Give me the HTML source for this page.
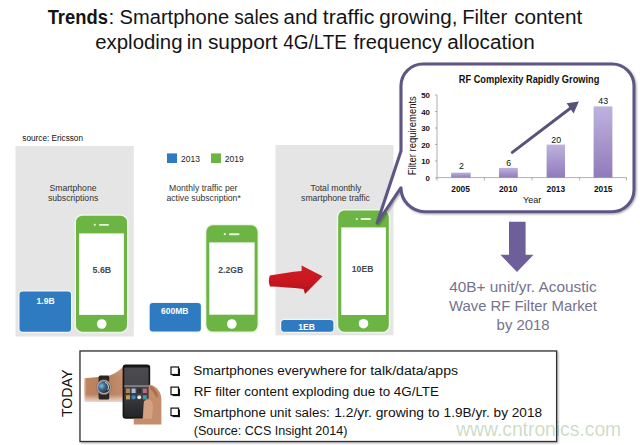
<!DOCTYPE html>
<html><head><meta charset="utf-8">
<style>
html,body{margin:0;padding:0;background:#fff;width:640px;height:445px;overflow:hidden}
svg{display:block}
text{font-family:"Liberation Sans",Arial,sans-serif}
</style></head>
<body>
<svg width="640" height="445" viewBox="0 0 640 445">
<defs>
  <linearGradient id="bar" x1="0" y1="0" x2="0" y2="1">
    <stop offset="0" stop-color="#bfb2de"/>
    <stop offset="1" stop-color="#8f7bbb"/>
  </linearGradient>
  <linearGradient id="red" x1="0" y1="0" x2="0" y2="1">
    <stop offset="0" stop-color="#d01c24"/>
    <stop offset="0.6" stop-color="#c8161f"/>
    <stop offset="1" stop-color="#b0121a"/>
  </linearGradient>
  <filter id="sh" x="-10%" y="-10%" width="120%" height="120%">
    <feGaussianBlur in="SourceAlpha" stdDeviation="1.2"/>
    <feOffset dx="0.8" dy="1.2" result="b"/>
    <feComponentTransfer><feFuncA type="linear" slope="0.35"/></feComponentTransfer>
    <feMerge><feMergeNode/><feMergeNode in="SourceGraphic"/></feMerge>
  </filter>
</defs>

<!-- Title -->
<g font-size="19.4" fill="#141414">
<text lengthAdjust="spacingAndGlyphs" x="47.66" y="23.5" textLength="60.22" font-weight="bold">Trends</text>
<text lengthAdjust="spacingAndGlyphs" x="108.6" y="23.5" textLength="5.8">:</text>
<text lengthAdjust="spacingAndGlyphs" x="119.57" y="23.5" textLength="109.55">Smartphone</text>
<text lengthAdjust="spacingAndGlyphs" x="234.27" y="23.5" textLength="44.59">sales</text>
<text lengthAdjust="spacingAndGlyphs" x="283.62" y="23.5" textLength="33.98">and</text>
<text lengthAdjust="spacingAndGlyphs" x="322.83" y="23.5" textLength="51.55">traffic</text>
<text lengthAdjust="spacingAndGlyphs" x="379.2" y="23.5" textLength="78.21">growing,</text>
<text lengthAdjust="spacingAndGlyphs" x="462.19" y="23.5" textLength="45.06">Filter</text>
<text lengthAdjust="spacingAndGlyphs" x="514.2" y="23.5" textLength="68.03">content</text>
<text lengthAdjust="spacingAndGlyphs" x="95.22" y="49.1" textLength="87.33">exploding</text>
<text lengthAdjust="spacingAndGlyphs" x="186.81" y="49.1" textLength="15.66">in</text>
<text lengthAdjust="spacingAndGlyphs" x="207.95" y="49.1" textLength="69.6">support</text>
<text lengthAdjust="spacingAndGlyphs" x="283.27" y="49.1" textLength="63.71">4G/LTE</text>
<text lengthAdjust="spacingAndGlyphs" x="353.49" y="49.1" textLength="88.55">frequency</text>
<text lengthAdjust="spacingAndGlyphs" x="447.3" y="49.1" textLength="87.51">allocation</text>
</g>

<!-- source -->
<text x="22.3" y="140.5" font-size="8.4" fill="#111" textLength="60.7" lengthAdjust="spacingAndGlyphs">source: Ericsson</text>

<!-- gray panels -->
<rect x="15.5" y="146" width="118.3" height="190.5" fill="#e5e5e5"/>
<rect x="275.5" y="145" width="118" height="190.3" fill="#e5e5e5"/>

<!-- legend -->
<rect x="167" y="153.4" width="10" height="9.6" fill="#2f7bc1"/>
<text x="181" y="161.6" font-size="8.7" fill="#222" textLength="19" lengthAdjust="spacingAndGlyphs">2013</text>
<rect x="211" y="153.4" width="10" height="9.6" fill="#6cb545"/>
<text x="224.7" y="161.6" font-size="8.7" fill="#222" textLength="19" lengthAdjust="spacingAndGlyphs">2019</text>

<!-- panel labels -->
<g font-size="8.65" fill="#333" text-anchor="middle">
<text x="73" y="190.5">Smartphone</text>
<text x="73.1" y="201">subscriptions</text>
<text x="203.3" y="190.5">Monthly traffic per</text>
<text x="203.6" y="200.7">active subscription*</text>
<text x="336" y="190.7">Total monthly</text>
<text x="335.5" y="200.5">smartphone traffic</text>
</g>

<!-- phones -->
<g fill="none" stroke="#eef7e6" stroke-width="2">
  <rect x="75.5" y="215.2" width="52" height="117" rx="7"/>
  <rect x="205.8" y="224.8" width="52.3" height="107.3" rx="7"/>
  <rect x="337.7" y="209.9" width="51.6" height="122.4" rx="7"/>
</g>
<g id="phones">
  <!-- phone 1 -->
  <rect x="76" y="215.7" width="51" height="116" rx="6.5" fill="#6cb545"/>
  <rect x="79.1" y="233.4" width="44.8" height="81.5" fill="#fff"/>
  <circle cx="94.8" cy="224.8" r="1.1" fill="#e8f5da"/>
  <rect x="99" y="223.9" width="10" height="1.9" rx="0.9" fill="#e8f5da"/>
  <circle cx="101.7" cy="324" r="4.8" fill="#fff"/>
  <!-- phone 2 -->
  <rect x="206.3" y="225.3" width="51.3" height="106.3" rx="6.5" fill="#6cb545"/>
  <rect x="209.3" y="242.4" width="45.3" height="72.3" fill="#fff"/>
  <circle cx="224.8" cy="234.2" r="1.1" fill="#e8f5da"/>
  <rect x="229" y="233.3" width="10.5" height="1.9" rx="0.9" fill="#e8f5da"/>
  <circle cx="231.8" cy="324" r="4.8" fill="#fff"/>
  <!-- phone 3 -->
  <rect x="338.2" y="210.4" width="50.6" height="121.4" rx="6.5" fill="#6cb545"/>
  <rect x="341.3" y="227.4" width="44.6" height="87.6" fill="#fff"/>
  <circle cx="356.8" cy="219" r="1.1" fill="#e8f5da"/>
  <rect x="360.6" y="218.1" width="10.4" height="1.9" rx="0.9" fill="#e8f5da"/>
  <circle cx="363.5" cy="323.7" r="4.8" fill="#fff"/>
</g>
<g font-size="8.6" font-weight="bold" fill="#4a4a4a" text-anchor="middle">
<text x="101.9" y="272.6" textLength="18.6" lengthAdjust="spacingAndGlyphs">5.6B</text>
<text x="230.7" y="272.5">2.2GB</text>
<text x="362.6" y="272.2">10EB</text>
</g>

<!-- blue boxes -->
<g fill="none" stroke="#f3f7fa" stroke-width="2.4">
<rect x="19.5" y="291.6" width="51.5" height="40.2" rx="3.5"/>
<rect x="149.7" y="302.9" width="51.2" height="28.7" rx="3.5"/>
<rect x="281.2" y="320" width="52.2" height="11.8" rx="3.5"/>
</g>
<rect x="19.5" y="291.6" width="51.5" height="40.2" rx="3" fill="#2f7bc1"/>
<rect x="149.7" y="302.9" width="51.2" height="28.7" rx="3" fill="#2f7bc1"/>
<rect x="281.2" y="320" width="52.2" height="11.8" rx="3" fill="#2f7bc1"/>
<g font-size="8.5" font-weight="bold" fill="#fff" text-anchor="middle">
<text x="45.6" y="303.8">1.9B</text>
<text x="174.8" y="314.3">600MB</text>
<text x="306.6" y="329.8">1EB</text>
</g>

<!-- red arrow -->
<path d="M269.8,275.6 C280,273.5 291,272 301.6,271 L301.6,265.5 L322.5,276.3 L305,293.9 L303.5,289 C292,287.5 281,286.8 270,286.4 C268.5,283 268.5,279 269.8,275.6 Z" fill="url(#red)"/>

<!-- callout -->
<path d="M423,64 H612 A22,22 0 0 1 634,86 V190 A22,22 0 0 1 612,211.7 H425 A24,24 0 0 1 401,187.7 L377.2,223 L401,151 V86 A22,22 0 0 1 423,64 Z" fill="#fff" stroke="#5e5786" stroke-width="3.1" stroke-linejoin="round" filter="url(#sh)"/>

<!-- chart -->
<text x="458.8" y="82.9" font-size="10.8" font-weight="bold" fill="#111" textLength="140.5" lengthAdjust="spacingAndGlyphs">RF Complexity Rapidly Growing</text>
<g stroke="#9a9a9a" stroke-width="0.8" fill="none">
  <path d="M437,95 V178"/>
  <path d="M435,95 H437 M435,111.5 H437 M435,128 H437 M435,144.5 H437 M435,161 H437 M435,178 H437"/>
  <path d="M437,177.6 H626.6"/>
  <path d="M437,177.6 V180.5 M484.3,177.6 V180.5 M532,177.6 V180.5 M579.7,177.6 V180.5 M626.6,177.6 V180.5"/>
</g>
<g font-size="7.9" font-weight="bold" fill="#111" text-anchor="end">
<text x="430" y="98">50</text>
<text x="430" y="114.5">40</text>
<text x="430" y="131">30</text>
<text x="430" y="147.5">20</text>
<text x="430" y="164">10</text>
<text x="430" y="181">0</text>
</g>
<text transform="translate(416.4,175.2) rotate(-90)" font-size="10.9" fill="#111" textLength="79" lengthAdjust="spacingAndGlyphs">Filter requirements</text>
<rect x="451.2" y="172.6" width="19.5" height="5" fill="url(#bar)"/>
<rect x="499" y="167.9" width="18.8" height="9.7" fill="url(#bar)"/>
<rect x="546.6" y="144.6" width="18.4" height="33" fill="url(#bar)"/>
<rect x="593.6" y="106.4" width="18.8" height="71.2" fill="url(#bar)"/>
<g font-size="8.8" fill="#111" text-anchor="middle">
<text x="461.4" y="169">2</text>
<text x="508.7" y="165.8">6</text>
<text x="556.2" y="142.8">20</text>
<text x="603.2" y="104">43</text>
</g>
<g font-size="8.4" font-weight="bold" fill="#111" text-anchor="middle">
<text x="460.6" y="192">2005</text>
<text x="508.2" y="192">2010</text>
<text x="555.8" y="192">2013</text>
<text x="603.2" y="192">2015</text>
</g>
<text x="523" y="203.3" font-size="9.6" fill="#111" textLength="18.2" lengthAdjust="spacingAndGlyphs">Year</text>
<!-- trend arrow -->
<path d="M512.3,152.4 L572,107" stroke="#5a5279" stroke-width="3" stroke-linecap="round"/>
<path d="M578.9,101.5 L566.6,103.3 L573.6,113.6 Z" fill="#5a5279"/>

<!-- big down arrow -->
<path d="M509,221.8 H525.6 V254.8 H533.5 L517,272 L500.4,254.8 H509 Z" fill="#6e5e9a"/>

<!-- market text -->
<g font-size="15" fill="#75728d">
<text lengthAdjust="spacingAndGlyphs" x="449.2" y="292" textLength="147.4">40B+ unit/yr. Acoustic</text>
<text lengthAdjust="spacingAndGlyphs" x="449" y="310.8" textLength="148">Wave RF Filter Market</text>
<text lengthAdjust="spacingAndGlyphs" x="496.6" y="330" textLength="53">by 2018</text>
</g>

<!-- bottom box -->
<rect x="80" y="351" width="476.6" height="90.5" fill="#fff" stroke="#333" stroke-width="1.3" filter="url(#sh)"/>
<text transform="translate(72.2,417.1) rotate(-90)" font-size="14" fill="#111" textLength="47.6" lengthAdjust="spacingAndGlyphs">TODAY</text>

<!-- arm / watch / phone image -->
<g id="img">
  <defs>
    <linearGradient id="arm" x1="0" y1="0" x2="1" y2="0">
      <stop offset="0" stop-color="#c89068" stop-opacity="0.45"/>
      <stop offset="0.06" stop-color="#bd8560"/>
      <stop offset="0.5" stop-color="#b67e5c"/>
      <stop offset="1" stop-color="#c48e6e"/>
    </linearGradient>
    <linearGradient id="armv" x1="0" y1="0" x2="0" y2="1">
      <stop offset="0" stop-color="#fff" stop-opacity="0.12"/>
      <stop offset="0.3" stop-color="#fff" stop-opacity="0"/>
      <stop offset="0.78" stop-color="#fff" stop-opacity="0"/>
      <stop offset="1" stop-color="#fff" stop-opacity="0.7"/>
    </linearGradient>
    <linearGradient id="scr" x1="0" y1="0" x2="0" y2="1">
      <stop offset="0" stop-color="#4c4c50"/>
      <stop offset="0.35" stop-color="#46464a"/>
      <stop offset="0.62" stop-color="#3a3a3e"/>
      <stop offset="1" stop-color="#242426"/>
    </linearGradient>
    <radialGradient id="face" cx="0.3" cy="0.4" r="0.75">
      <stop offset="0" stop-color="#8cbde0"/>
      <stop offset="0.4" stop-color="#3d6a90"/>
      <stop offset="1" stop-color="#141c28"/>
    </radialGradient>
  </defs>
  <path d="M84,378.3 C92,377.8 100,377 106,376.3 C112,375.2 116,372.5 119.5,370 C121,368.5 122.5,367.3 124,367 L124,402 L84,402 Z" fill="url(#arm)"/>
  <path d="M84,378.3 C92,377.8 100,377 106,376.3 C112,375.2 116,372.5 119.5,370 C121,368.5 122.5,367.3 124,367 L124,402 L84,402 Z" fill="url(#armv)"/>
  <rect x="98.6" y="375.6" width="10.6" height="24" rx="1.5" fill="#2c2424"/>
  <circle cx="103.9" cy="387.2" r="7.4" fill="#b2a8a6" stroke="#6e6462" stroke-width="0.6"/>
  <circle cx="103.9" cy="387.2" r="5.9" fill="url(#face)"/>
  <path d="M105,382.3 A5,5 0 0 1 107.6,390" stroke="#d4c49c" stroke-width="1.1" fill="none"/>
  <rect x="122.6" y="364.5" width="27.6" height="54.2" rx="3" fill="#151515"/>
  <rect x="124.3" y="367.5" width="24.2" height="49.5" rx="1" fill="url(#scr)"/>
  <rect x="124.3" y="385.4" width="24.2" height="1.3" fill="#9a9a9a"/>
  <rect x="126" y="388.6" width="4" height="4.4" fill="#b88448"/>
  <rect x="131.6" y="388.6" width="4" height="4.4" fill="#a6c0da"/>
  <rect x="137.2" y="388.6" width="4" height="4.4" fill="#2e2e30"/>
  <rect x="142.8" y="388.6" width="4" height="4.4" fill="#c06a84"/>
  <rect x="126" y="395.2" width="4" height="4.2" fill="#c89a58"/>
  <circle cx="133.6" cy="397.3" r="2.1" fill="#3c88c4"/>
  <circle cx="139.2" cy="397.3" r="2" fill="#e6e6e6"/>
  <rect x="142.8" y="395.2" width="4" height="4.2" fill="#3c9ca6"/>
  <path d="M148.5,384.7 C153.5,384.5 157.5,388 159.6,392 C161,394.8 161.4,397.5 161.4,401 L161.4,424.5 L133.8,424.5 L133.8,418.7 L142.5,418.7 C143.3,413 143.6,407.5 143.8,402.5 C144.8,399.5 146.5,398.8 148.5,398.4 Z" fill="#c48e6c"/>
  <path d="M144,401.5 C146.2,400 149,399.4 151.2,400.4 C153.4,402.4 153.4,410 151.6,418.7 L143.2,418.7 C143.6,412.5 143.7,406.5 144,401.5 Z" fill="#d4a282"/>
  <path d="M150.2,386 C153.8,387 156.8,391 158.2,396 L156.6,397.8 C154.8,394 152.4,390.2 150.2,389.2 Z" fill="#a86e50"/>
</g>

<!-- bullets -->
<g fill="none" stroke="#111" stroke-width="1.2">
  <rect x="171" y="367" width="7.5" height="7.5"/>
  <rect x="171" y="387.1" width="7.5" height="7.5"/>
  <rect x="171" y="408.1" width="7.5" height="7.5"/>
</g>
<g fill="#111">
  <rect x="178.5" y="368.5" width="1.5" height="7.5"/><rect x="172.5" y="374.5" width="7.5" height="1.5"/>
  <rect x="178.5" y="388.6" width="1.5" height="7.5"/><rect x="172.5" y="394.6" width="7.5" height="1.5"/>
  <rect x="178.5" y="409.6" width="1.5" height="7.5"/><rect x="172.5" y="415.6" width="7.5" height="1.5"/>
</g>
<g font-size="12.3" fill="#111">
<text x="193.18" y="375.3" textLength="153.75" lengthAdjust="spacingAndGlyphs">Smartphones everywhere</text>
<text x="349.71" y="375.3" textLength="108.46" lengthAdjust="spacingAndGlyphs">for talk/data/apps</text>
<text x="193.7" y="396.1" textLength="245.3" lengthAdjust="spacingAndGlyphs">RF filter content exploding due to 4G/LTE</text>
<text x="193.19" y="417.3" textLength="136.63" lengthAdjust="spacingAndGlyphs">Smartphone unit sales:</text>
<text x="334.18" y="417.3" textLength="105.27" lengthAdjust="spacingAndGlyphs">1.2/yr. growing to</text>
<text x="443.59" y="417.3" textLength="98.5" lengthAdjust="spacingAndGlyphs">1.9B/yr. by 2018</text>
<text x="193.7" y="435.3" textLength="153.8" lengthAdjust="spacingAndGlyphs">(Source: CCS Insight 2014)</text>
</g>

<!-- watermark -->
<text x="456.2" y="435.7" font-size="20" fill="#4a8a3a" textLength="165" lengthAdjust="spacingAndGlyphs" fill-opacity="0.3">www.cntronics.com</text>
</svg>
</body></html>
